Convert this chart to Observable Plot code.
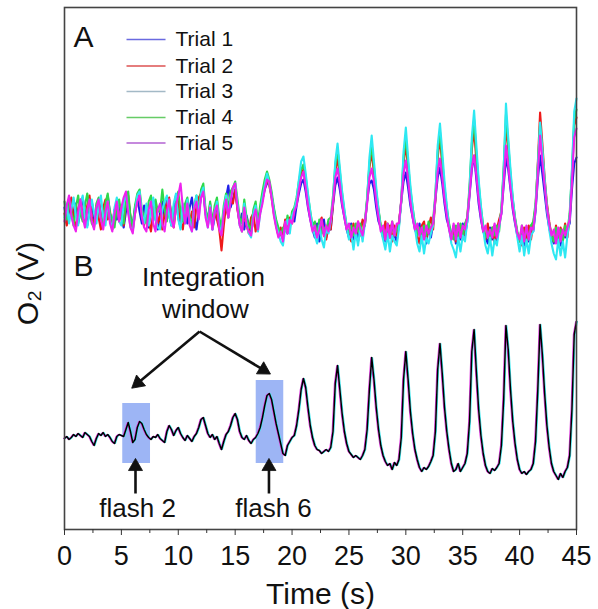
<!DOCTYPE html>
<html>
<head>
<meta charset="utf-8">
<script src="https://cdn.jsdelivr.net/npm/d3@7"></script>
<script src="https://cdn.jsdelivr.net/npm/@observablehq/plot@0.6"></script>
<style>
  html, body { margin: 0; padding: 0; background: #fff; }
  #chart { width: 598px; height: 609px; }
</style>
</head>
<body>
<div id="chart"></div>
<script>
// ---- sampling ----
const sampleStep = 0.2;          // s between samples
const xTicks = [0, 5, 10, 15, 20, 25, 30, 35, 40, 45];
const xMinorTicks = [2.5, 7.5, 12.5, 17.5, 22.5, 27.5, 32.5, 37.5, 42.5];

// ---- panel A: individual trials (O2 signal, arbitrary units, offset) ----
const trial1 = [
322,308,318,330,312,326,306,318,332,316,304,320,328,310,318,
330,314,306,322,334,316,304,320,310,326,312,302,318,330,312,
304,322,332,318,306,324,312,302,320,330,310,300,316,328,312,
330,314,304,322,334,312,302,324,316,306,322,332,312,300,318,
332,338,316,304,322,300,312,326,306,298,318,332,344,322,330,
340,322,306,316,300,314,304,296,312,322,306,318,330,340,346,
346,334,320,306,294,300,290,308,296,306,314,308,324,336,346,
350,338,322,310,300,292,306,288,302,310,292,306,300,324,344,
352,340,324,312,300,292,306,290,304,288,302,308,304,328,346,
349,340,322,308,302,292,288,304,292,306,294,288,306,328,348,
357,342,324,312,300,294,306,288,300,286,304,292,306,330,352,
362,346,326,310,302,290,304,286,300,290,306,294,308,334,360,
374,350,326,310,298,292,286,302,290,304,288,306,316,344,371,
360,340,320,306,294,288,300,284,302,288,304,298,318,350,374,
356,336,316,302,292,286,300,288,284,298,292,300,306,340,366,
372];
const trial2 = [
316,304,322,332,310,302,320,330,314,306,324,334,312,304,324,
312,300,322,330,310,318,300,316,328,308,324,304,326,334,312,
300,316,330,336,314,304,324,308,298,318,328,306,314,300,316,
326,332,310,302,322,330,308,300,320,328,306,318,302,324,332,
336,340,318,306,326,304,320,310,300,279,304,324,312,330,326,
340,320,306,298,318,304,296,312,316,298,310,318,330,342,350,
344,332,316,304,294,302,292,310,298,312,306,320,326,342,356,
360,346,328,314,302,296,290,306,312,294,290,304,300,326,358,
372,352,332,316,302,294,288,306,292,308,294,310,304,330,362,
378,356,334,318,302,294,308,290,304,288,304,294,308,328,366,
385,360,336,318,304,294,286,304,308,290,302,312,300,330,372,
392,364,338,318,302,292,300,288,306,296,290,304,312,338,380,
400,368,340,318,300,290,306,288,302,286,300,310,318,356,405,
380,352,328,310,296,290,284,302,288,304,290,306,322,366,417,
386,352,326,308,294,288,304,286,302,290,306,292,312,352,404,
412];
const trial3 = [
312,326,306,320,332,314,304,326,334,312,302,318,330,316,306,
324,334,312,304,328,310,300,322,332,308,304,326,336,320,302,
298,318,334,338,316,306,326,304,320,332,310,302,300,320,328,
334,314,304,326,336,310,300,326,306,330,308,298,322,334,312,
336,342,316,302,324,300,318,328,304,296,320,334,312,332,340,
346,326,304,298,326,306,296,292,316,324,298,316,332,344,356,
346,334,318,304,296,288,284,302,310,296,314,320,330,350,368,
373,356,336,318,302,294,286,304,290,282,300,296,308,330,368,
386,362,338,320,302,290,296,280,298,284,302,288,306,330,372,
394,368,342,320,300,290,280,296,278,294,288,284,302,328,378,
402,372,344,322,302,286,278,294,276,292,286,296,304,334,384,
406,378,348,324,302,286,280,272,292,278,294,288,308,340,392,
419,384,350,324,300,284,276,292,274,290,284,302,318,360,426,
392,360,332,310,292,278,294,274,290,276,294,298,322,362,407,
380,350,322,300,286,276,270,290,274,288,272,294,312,360,418,
431];
const trial4 = [
328,310,330,318,304,322,334,316,308,324,336,318,306,302,326,
332,312,304,326,336,316,310,302,322,330,314,306,330,338,312,
304,324,336,340,320,312,306,328,334,310,330,318,318,340,320,
308,330,316,306,326,338,318,308,326,332,312,304,324,334,318,
340,346,320,310,328,306,324,332,312,302,324,336,320,338,342,
348,330,312,306,330,312,304,300,320,328,306,324,338,350,358,
350,338,322,310,302,294,302,298,314,302,318,322,332,348,360,
365,352,334,318,304,308,294,310,296,302,298,310,312,334,364,
380,358,336,318,304,296,304,294,306,298,306,292,308,332,366,
385,362,338,320,304,296,290,306,292,308,294,300,304,330,372,
392,366,340,322,306,294,302,290,304,294,308,296,310,336,378,
398,370,342,322,306,296,290,304,288,306,292,306,312,344,386,
410,376,346,322,304,292,298,288,302,294,304,298,322,362,415,
386,356,330,312,298,288,304,288,302,290,304,308,326,364,405,
378,348,324,306,294,288,302,286,300,288,304,298,316,358,410,
420];
const trial5 = [
308,324,334,314,304,298,318,330,312,302,320,330,308,300,322,
330,310,300,318,328,306,298,316,328,308,322,332,338,316,302,
296,316,328,334,312,302,298,320,328,306,298,320,326,306,298,
318,330,310,302,324,334,346,322,306,326,304,298,322,328,310,
332,338,312,302,322,300,318,324,300,294,316,330,312,328,342,
346,322,304,298,322,304,298,294,312,320,300,316,326,340,350,
348,332,314,302,292,298,288,308,296,310,306,318,324,340,352,
358,342,324,310,298,304,292,300,310,294,304,298,310,328,352,
361,346,326,312,300,306,292,302,296,308,300,294,308,326,352,
361,348,328,312,298,304,290,306,292,308,294,306,306,330,356,
369,350,328,312,300,306,294,302,290,304,296,302,306,332,358,
371,352,330,314,300,290,306,290,306,292,304,300,312,336,362,
374,354,330,312,298,304,292,300,292,306,292,304,316,348,384,
364,342,322,308,296,290,304,288,304,290,302,300,320,356,394,
368,344,322,306,294,300,286,302,288,300,294,302,310,348,392,
401];

// ---- panel B: averaged trace ----
const averageTrace = [
91,93,90,92,95,93,96,94,92,97,95,93,88,84,91,
96,94,97,93,95,92,88,86,93,95,94,93,100,107,98,
87,90,102,108,106,100,95,92,90,93,92,95,91,89,87,
98,104,100,94,99,102,96,92,89,94,91,88,93,96,102,
110,112,104,96,92,95,90,93,86,80,88,95,98,104,112,
116,110,98,92,90,94,89,86,90,92,96,102,112,124,134,
136,130,118,106,96,86,76,74,84,88,92,94,104,120,140,
151,142,122,104,92,84,80,79,76,78,80,78,82,98,146,
164,140,116,98,86,78,75,72,74,72,70,74,80,100,140,
172,150,122,100,84,74,68,64,66,60,67,64,70,92,150,
178,150,118,96,80,70,62,58,62,60,63,68,74,98,160,
186,156,122,98,80,66,58,60,66,58,62,66,76,108,178,
200,158,120,94,76,64,58,56,61,59,62,66,84,130,204,
180,140,108,86,70,60,56,58,55,58,60,66,88,140,205,
175,136,104,82,66,58,54,50,56,52,58,62,74,120,195,
208];

// ---- labels / legend ----
const trialNames = ["Trial 1", "Trial 2", "Trial 3", "Trial 4", "Trial 5"];
const trialColors = ["#1f1fe8", "#ee1a1a", "#2ee8f2", "#2ed84a", "#ee22ee"];
const legendColors = ["#6a6ae0", "#dc5252", "#a3b9c6", "#66cc66", "#b262d2"];
const drawOrder = [0, 1, 3, 2, 4];
const legendRowY = [490, 463.5, 438, 412, 386.5];
const legendLineX = [5.45, 8.88];
const legendTextX = 9.76;

const panelLabels = [{text: "A", x: 1.67, y: 492}, {text: "B", x: 1.67, y: 263}];
const windowText = [{text: "Integration", x: 12.22, y: 252}, {text: "window", x: 12.39, y: 220}];
const arrows = [
  {x1: 11.87, y1: 198, x2: 5.98, y2: 142},
  {x1: 11.87, y1: 198, x2: 18.02, y2: 156},
  {x1: 6.24, y1: 36, x2: 6.24, y2: 70},
  {x1: 17.97, y1: 36, x2: 17.97, y2: 70}
];
const windowBoxes = [
  {x1: 5.12, x2: 7.56, y1: 66, y2: 126},
  {x1: 16.85, x2: 19.27, y1: 66, y2: 149}
];
const flashLabels = [{text: "flash 2", x: 6.42, y: 21}, {text: "flash 6", x: 18.37, y: 21}];
const xTitle = {text: "Time (s)", x: 22.5, y: -65};
const yTitle = {text: "O\u2082 (V)", x: -3.2, y: 246};

// ---- layout ----
const W = 598, H = 609, mL = 64, mR = 22, mT = 7, mB = 80;
const xDomain = [0, 45], yDomain = [0, 522];
const pxPerX = (W - mL - mR) / (xDomain[1] - xDomain[0]);
const pxPerY = (H - mT - mB) / (yDomain[1] - yDomain[0]);
const headBack = 7; // px from tip to centroid of the triangular head

// arrow heads: filled triangles at the tip, rotated to the arrow direction
const arrowParts = arrows.map(a => {
  const sx = (a.x2 - a.x1) * pxPerX, sy = -(a.y2 - a.y1) * pxPerY;
  const L = Math.hypot(sx, sy), ux = sx / L, uy = sy / L;
  return {
    x1: a.x1, y1: a.y1,
    hx: a.x2 - headBack * ux / pxPerX,
    hy: a.y2 + headBack * uy / pxPerY,
    rot: Math.atan2(ux, -uy) * 180 / Math.PI
  };
});

// ---- build tables ----
const trials = [trial1, trial2, trial3, trial4, trial5];
const toRows = (arr) => arr.map((v, i) => ({t: i * sampleStep, v}));
const trialRows = trials.map(toRows);
const avgRows = toRows(averageTrace);
const legendRows = trialNames.map((name, i) => ({name, color: legendColors[i], y: legendRowY[i]}));

const font = "'Liberation Sans', Arial, Helvetica, sans-serif";

const marks = [
  Plot.rect(windowBoxes, {x1: "x1", x2: "x2", y1: "y1", y2: "y2", fill: "#9db5f5"}),
  ...drawOrder.map(k => Plot.line(trialRows[k], {x: "t", y: "v", stroke: trialColors[k], strokeWidth: 2.1, curve: "linear"})),
  Plot.line(avgRows, {x: "t", y: "v", stroke: "#3ee6ee", strokeWidth: 1.1, dx: 0.9}),
  Plot.line(avgRows, {x: "t", y: "v", stroke: "#e040e0", strokeWidth: 1.1, dx: -0.9}),
  Plot.line(avgRows, {x: "t", y: "v", stroke: "#000", strokeWidth: 1.5}),
  Plot.link(legendRows, {x1: () => legendLineX[0], x2: () => legendLineX[1], y1: "y", y2: "y", stroke: "color", strokeWidth: 1.6}),
  Plot.text(legendRows, {x: () => legendTextX, y: "y", text: "name", textAnchor: "start", fontSize: 21, fill: "#111"}),
  Plot.text(panelLabels, {x: "x", y: "y", text: "text", fontSize: 30, fill: "#111"}),
  Plot.text(windowText, {x: "x", y: "y", text: "text", fontSize: 26, fill: "#111"}),
  Plot.link(arrowParts, {x1: "x1", y1: "y1", x2: "hx", y2: "hy", stroke: "#111", strokeWidth: 2.6}),
  Plot.dot(arrowParts, {x: "hx", y: "hy", rotate: "rot", symbol: "triangle", r: 5.2, fill: "#111", stroke: "#111", strokeWidth: 0.8}),
  Plot.text(flashLabels, {x: "x", y: "y", text: "text", fontSize: 26, fill: "#111"}),
  Plot.text([xTitle], {x: "x", y: "y", text: "text", fontSize: 30, fill: "#111"}),
  Plot.text([yTitle], {x: "x", y: "y", text: "text", fontSize: 30, fill: "#111", rotate: -90}),
  Plot.frame({stroke: "#444", strokeWidth: 1.6}),
  Plot.axisX({ticks: xMinorTicks, tickSize: 4, tickFormat: () => "", label: null, stroke: "#333"}),
  Plot.axisX({ticks: xTicks, tickSize: 6, tickPadding: 10, fontSize: 27, label: null, stroke: "#333", fill: "#111"})
];

const chart = Plot.plot({
  width: W,
  height: H,
  marginLeft: mL,
  marginRight: mR,
  marginTop: mT,
  marginBottom: mB,
  x: {domain: xDomain},
  y: {domain: yDomain, axis: null},
  style: {fontFamily: font, background: "#fff", color: "#111", overflow: "visible"},
  marks
});
document.getElementById("chart").appendChild(chart);
</script>
</body>
</html>
